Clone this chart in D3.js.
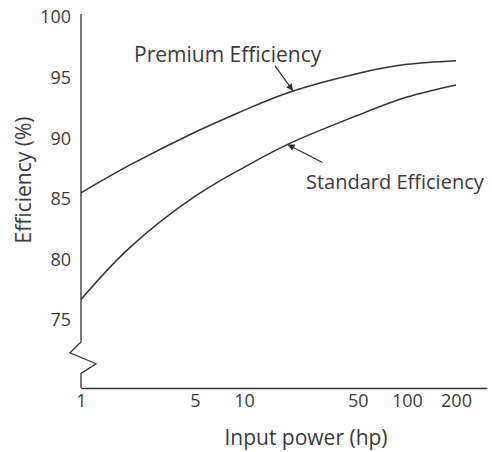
<!DOCTYPE html>
<html>
<head>
<meta charset="utf-8">
<script src="https://cdn.jsdelivr.net/npm/d3@7"></script>
<style>
  body { margin: 0; background: #fff; }
  text { font-family: "Open Sans", sans-serif; fill: #3a3a3a; }
</style>
</head>
<body>
<svg id="chart" width="492" height="452"></svg>
<script>
const hp = [1, 2, 5, 10, 20, 50, 100, 200];
const premium = [85.5, 87.8, 90.5, 92.3, 93.9, 95.35, 96.1, 96.4];
const standard = [76.7, 81.0, 85.2, 87.6, 89.7, 91.9, 93.4, 94.4];
const xTicks = [1, 5, 10, 50, 100, 200];
const yTicks = [75, 80, 85, 90, 95, 100];

const svg = d3.select("#chart");
const ink = "#333";

const x = d3.scaleLog().domain([1, 310]).range([81, 487]);
const y = d3.scaleLinear().domain([69.4, 100.25]).range([388, 14]);

// arrowhead
svg.append("defs").append("marker")
  .attr("id", "arrow")
  .attr("viewBox", "0 0 10 10")
  .attr("refX", 10)
  .attr("refY", 5)
  .attr("markerWidth", 8)
  .attr("markerHeight", 7)
  .attr("markerUnits", "userSpaceOnUse")
  .attr("orient", "auto")
  .append("path")
  .attr("d", "M0,0L10,5L0,10z")
  .attr("fill", ink);

// X axis
const xAxis = svg.append("g")
  .attr("transform", `translate(0, ${y(69.4)})`)
  .call(d3.axisBottom(x).tickValues(xTicks).tickFormat(d3.format("d")).tickSize(0).tickPadding(6));
xAxis.select(".domain").attr("stroke", ink).attr("stroke-width", 1.3);
xAxis.selectAll("text").style("font-size", "18px").attr("fill", "#3a3a3a");

// Y axis labels
const yAxis = svg.append("g")
  .attr("transform", `translate(${x(1)}, 0)`)
  .call(d3.axisLeft(y).tickValues(yTicks).tickSize(0).tickPadding(10));
yAxis.select(".domain").remove();
yAxis.selectAll("text").style("font-size", "18px").attr("fill", "#3a3a3a");

// Y axis line with a break near the bottom
const x0 = x(1);
const breakPath = d3.path();
breakPath.moveTo(x0, y(100.25));
breakPath.lineTo(x0, y(73.2));
breakPath.lineTo(x0 - 11, y(72.3));
breakPath.lineTo(x0 + 15, y(71.4));
breakPath.lineTo(x0, y(70.6));
breakPath.lineTo(x0, y(69.4));
svg.append("path")
  .attr("d", breakPath.toString())
  .attr("fill", "none")
  .attr("stroke", ink)
  .attr("stroke-width", 1.3);

// Axis titles
svg.append("text")
  .attr("x", 306)
  .attr("y", 445)
  .attr("text-anchor", "middle")
  .style("font-size", "21px")
  .text("Input power (hp)");

svg.append("text")
  .attr("transform", "rotate(-90)")
  .attr("x", -180)
  .attr("y", 31)
  .attr("text-anchor", "middle")
  .style("font-size", "21px")
  .text("Efficiency (%)");

// Curves
const line = d3.line()
  .x(d => x(d[0]))
  .y(d => y(d[1]))
  .curve(d3.curveNatural);

function drawCurve(values) {
  return svg.append("path")
    .datum(hp.map((h, i) => [h, values[i]]))
    .attr("fill", "none")
    .attr("stroke", ink)
    .attr("stroke-width", 1.5)
    .attr("d", line);
}

const premiumPath = drawCurve(premium);
const standardPath = drawCurve(standard);

// find the point on a curve at a given horsepower
function pointAt(path, h) {
  const node = path.node();
  const tx = x(h);
  let lo = 0, hi = node.getTotalLength();
  for (let i = 0; i < 40; i++) {
    const mid = (lo + hi) / 2;
    if (node.getPointAtLength(mid).x < tx) lo = mid; else hi = mid;
  }
  return node.getPointAtLength(lo);
}

function annotate(path, h, dx, dy, label, lx, ly, size) {
  const p = pointAt(path, h);
  svg.append("line")
    .attr("x1", p.x + dx)
    .attr("y1", p.y + dy)
    .attr("x2", p.x)
    .attr("y2", p.y)
    .attr("stroke", ink)
    .attr("stroke-width", 1.3)
    .attr("marker-end", "url(#arrow)");
  svg.append("text")
    .attr("x", lx)
    .attr("y", ly)
    .style("font-size", size + "px")
    .text(label);
}

annotate(premiumPath, 20, -18, -25, "Premium Efficiency", 134, 62, 21);
annotate(standardPath, 18.5, 35, 18, "Standard Efficiency", 306, 189, 20);
</script>
</body>
</html>
